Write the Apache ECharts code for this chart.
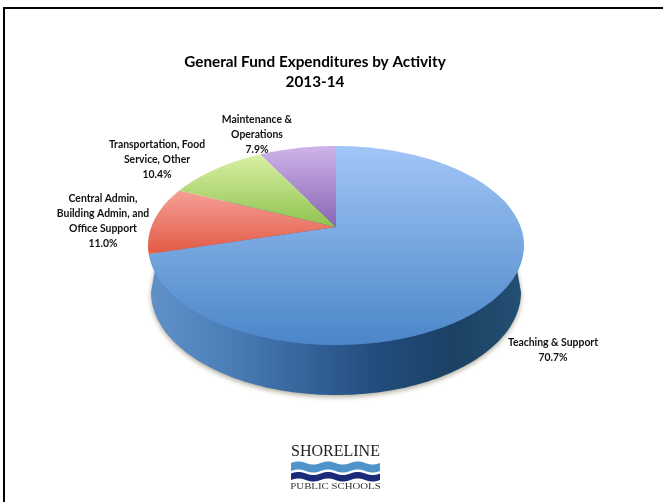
<!DOCTYPE html>
<html>
<head>
<meta charset="utf-8">
<style>html,body{margin:0;padding:0;background:#fff}#c{width:663px;height:502px}</style>
<script src="https://cdn.jsdelivr.net/npm/echarts@6/dist/echarts.min.js"></script>
</head>
<body>
<div id="c"></div>
<script>
var chartTitle = 'General Fund Expenditures by Activity\n2013-14';
var categories = ['Teaching & Support', 'Central Admin,\nBuilding Admin, and\nOffice Support', 'Transportation, Food\nService, Other', 'Maintenance &\nOperations'];
var shares = [70.7, 11.0, 10.4, 7.9];

var sliceShades = [['#a2c6f6', '#4b86c9'], ['#f6a097', '#e15a44'], ['#d9f0a4', '#8fc24f'], ['#cdb4e8', '#8a64b4']];
var labelAnchors = [[553, 350.5], [103, 221.5], [157, 160], [257, 134.5]];

var PIE = { cx: 336, apexY: 227, R: 184.7, S: 96.06, k: 0.186 };
var BASE = { cx: 336, cy: 292, rx: 185, ry: 103 };
var total = shares.reduce(function (a, b) { return a + b; }, 0);

function rim(angle) {
  var u = Math.sin(angle), v = -Math.cos(angle), d = 1 - PIE.k * v;
  return [PIE.cx + PIE.R * u / d, PIE.apexY + PIE.S * v / d];
}
function vertical(c) {
  return { type: 'linear', x: 0, y: 0, x2: 0, y2: 1, colorStops: [{ offset: 0, color: c[0] }, { offset: 1, color: c[1] }] };
}
function wallPoints() {
  var pts = [];
  for (var i = 0; i <= 120; i++) {
    var t = Math.PI * i / 120;
    pts.push([BASE.cx + BASE.rx * Math.cos(t), BASE.cy + BASE.ry * Math.sin(t)]);
  }
  return [rim(Math.PI / 2 * 0.82)].concat(pts, [rim(Math.PI * 1.59)]);
}

function renderSlice(params, api) {
  var i = params.dataIndex, before = 0;
  for (var n = 0; n < i; n++) before += shares[n];
  var start = before / total * 2 * Math.PI;
  var end = (before + api.value(0)) / total * 2 * Math.PI;
  var pts = [[PIE.cx, PIE.apexY]];
  var steps = Math.max(8, Math.round((end - start) * 60));
  for (var s = 0; s <= steps; s++) pts.push(rim(start + (end - start) * s / steps));
  var children = [];
  if (i === 0) {
    children.push({
      type: 'polygon', shape: { points: wallPoints() },
      style: {
        fill: { type: 'linear', x: 0, y: 0, x2: 1, y2: 0, colorStops: [
          { offset: 0, color: '#6190c9' }, { offset: 0.2, color: '#4c7fb8' }, { offset: 0.42, color: '#35639a' },
          { offset: 0.62, color: '#214b7c' }, { offset: 0.82, color: '#1b4263' }, { offset: 1, color: '#234f73' }] },
        shadowBlur: 5, shadowColor: 'rgba(110,100,70,0.55)', shadowOffsetY: 2
      }
    });
  }
  children.push({ type: 'polygon', shape: { points: pts }, style: { fill: vertical(sliceShades[i]) } });
  children.push({
    type: 'text', z2: 10,
    style: {
      text: categories[i] + '\n' + api.value(0).toFixed(1) + '%',
      x: labelAnchors[i][0], y: labelAnchors[i][1],
      align: 'center', verticalAlign: 'middle',
      font: 'bold 10.4px Lato', lineHeight: 15, fill: '#111'
    }
  });
  return { type: 'group', children: children };
}

function wave(y0, h) {
  var top = [], bottom = [];
  for (var i = 0; i <= 60; i++) {
    var x = 291 + 89 * i / 60, d = 1.6 * Math.sin(i / 60 * Math.PI * 2 * 3);
    top.push([x, y0 - d]);
    bottom.unshift([x, y0 + h - d]);
  }
  return top.concat(bottom);
}

var chart = echarts.init(document.getElementById('c'), null, { renderer: 'canvas' });
chart.setOption({
  animation: false,
  backgroundColor: '#fff',
  title: {
    text: chartTitle, left: 315, top: 52, padding: 0, textAlign: 'center',
    textStyle: { fontFamily: 'Lato', fontWeight: 'bold', fontSize: 15.3, lineHeight: 20, color: '#000' }
  },
  series: [{
    type: 'custom', coordinateSystem: 'none', renderItem: renderSlice, silent: true,
    data: shares.map(function (v, i) { return { name: categories[i], value: [v] }; })
  }],
  graphic: [
    { type: 'polyline', shape: { points: [[4, 502], [4, 8], [663, 8]] }, style: { stroke: '#000', lineWidth: 2, fill: null } },
    { type: 'text', x: 335.5, y: 452, style: { text: 'SHORELINE', font: '16px "Liberation Serif"', fill: '#222', align: 'center', verticalAlign: 'middle' } },
    { type: 'polygon', shape: { points: wave(463, 8) }, style: { fill: '#4f94c9' } },
    { type: 'polygon', shape: { points: wave(473.5, 6.5) }, style: { fill: '#1b2a78' } },
    { type: 'text', x: 335.5, y: 487, scaleX: 1.35, style: { text: 'PUBLIC SCHOOLS', font: '8px "Liberation Serif"', fill: '#333', align: 'center', verticalAlign: 'middle' } }
  ]
});
</script>
</body>
</html>
